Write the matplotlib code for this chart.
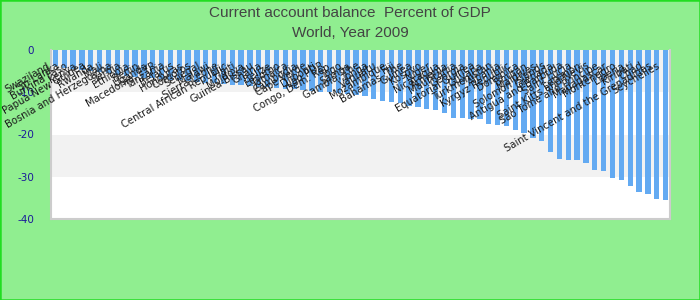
import matplotlib
matplotlib.use("Agg")
import matplotlib.pyplot as plt
from matplotlib.patches import Rectangle

countries = [
    "Swaziland", "Sri Lanka", "Burkina Faso", "Kenya", "Papua New Guinea",
    "Rwanda", "Mali", "Bosnia and Herzegovina", "Serbia", "Ethiopia",
    "Benin", "Uganda", "Macedonia, FYR", "Tanzania", "Belarus",
    "Honduras", "Comoros", "Senegal", "Malawi", "Sierra Leone",
    "Central African Republic", "Haiti", "Moldova", "Guinea-Bissau", "Ghana",
    "Belize", "Lesotho", "Jamaica", "Cambodia", "Cape Verde",
    "Djibouti", "Lao PDR", "Congo, Dem. Rep.", "Togo", "Samoa",
    "Gambia, The", "Tonga", "Vanuatu", "Mozambique", "Fiji",
    "Bahamas, The", "Guinea", "Kosovo", "Niger", "Nicaragua",
    "Armenia", "Mauritania", "Georgia", "Equatorial Guinea", "Guyana",
    "Turkmenistan", "Albania", "Kyrgyz Republic", "Dominica", "Bhutan",
    "Maldives", "Solomon Islands", "Grenada", "Antigua and Barbuda", "Saint Lucia",
    "Lebanon", "Saint Kitts and Nevis", "Sao Tome and Principe", "Madagascar", "Montenegro",
    "Liberia", "Kiribati", "Chad", "Saint Vincent and the Grenadines", "Seychelles",
]
values = [
    -3.8, -4.2, -4.5, -4.7, -4.9, -5.2, -5.5, -5.9, -6.2, -6.4,
    -6.6, -6.7, -6.9, -7.0, -7.2, -7.4, -7.6, -7.8, -7.9, -8.1,
    -8.2, -8.4, -8.5, -8.7, -8.8, -9.0, -9.2, -9.3, -9.5, -9.7,
    -9.9, -10.0, -10.2, -10.4, -10.6, -10.8, -11.6, -12.1, -12.2, -12.6,
    -13.3, -13.4, -14.0, -14.2, -14.8, -16.0, -16.0, -16.3, -16.4, -17.4,
    -17.8, -18.0, -18.9, -19.7, -20.9, -21.5, -24.1, -25.8, -26.0, -26.0,
    -26.7, -28.4, -28.6, -30.2, -30.8, -32.1, -33.5, -34.1, -35.3, -35.5,
]
y_ticks = [0, -10, -20, -30, -40]
title_lines = ["Current account balance  Percent of GDP", "World, Year 2009"]

W, H, DPI = 700, 300, 100
fig = plt.figure(figsize=(W / DPI, H / DPI), dpi=DPI, facecolor="#90ee90")
fig.patches.append(Rectangle((0, 0), 1, 1, transform=fig.transFigure, fill=False,
                             edgecolor="#22dd22", linewidth=1.8, zorder=10))

ax = fig.add_axes([51 / W, 1 - 219 / H, (670 - 51) / W, (219 - 50) / H])
ax.set_facecolor("white")
ax.set_xlim(-0.5, len(values) - 0.5)
ax.set_ylim(-40, 0)

# alternating bands
for lo, hi, c in [(-10, 0, "#f2f2f2"), (-20, -10, "white"), (-30, -20, "#f2f2f2"), (-40, -30, "white")]:
    ax.axhspan(lo, hi, color=c, zorder=0, linewidth=0)

x = list(range(len(values)))
ax.bar(x, values, width=0.6, color="#63aaf2", zorder=2)

ax.set_yticks(y_ticks)
ax.set_yticklabels([str(t) for t in y_ticks], color="#1a1a99", fontsize=7.5,
                   family="DejaVu Sans")
ax.tick_params(axis="y", length=0, pad=12)
ax.set_xticks([])
for s in ["left", "bottom", "right"]:
    ax.spines[s].set_color("#cccccc")
    ax.spines[s].set_linewidth(1.5)
ax.spines["top"].set_visible(False)

for i, name in enumerate(countries):
    ax.annotate(name, xy=(i, 0), xytext=(-6, -15), textcoords="offset pixels",
                ha="right", va="center", rotation=30, rotation_mode="anchor",
                fontsize=7.2, color="#1a1a1a", family="DejaVu Sans", zorder=5,
                annotation_clip=False)

fig.text(0.5, 1 - 13 / H, title_lines[0], ha="center", va="center",
         fontsize=11, color="#444444", family="Liberation Sans")
fig.text(0.5, 1 - 33 / H, title_lines[1], ha="center", va="center",
         fontsize=11, color="#444444", family="Liberation Sans")

fig.savefig("out.png", dpi=DPI, facecolor=fig.get_facecolor())
